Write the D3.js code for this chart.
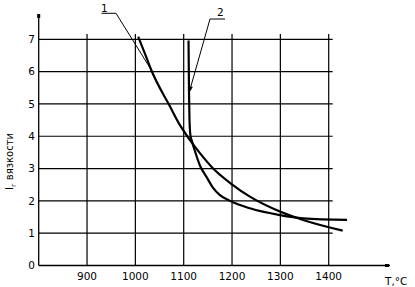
<!DOCTYPE html>
<html>
<head>
<meta charset="utf-8">
<script src="https://cdn.jsdelivr.net/npm/d3@7"></script>
<style>
  body { margin: 0; background: #fff; }
  text { font-family: "DejaVu Sans", sans-serif; fill: #000; }
</style>
</head>
<body>
<svg id="chart"></svg>
<script>
// Вязкость от температуры, кривые 1 и 2

const xTicks = [900, 1000, 1100, 1200, 1300, 1400];
const yTicks = [0, 1, 2, 3, 4, 5, 6, 7];

// кривая 1: [T, I]
const curve1 = [
    [1006, 7.08], [1023, 6.43], [1032, 6.08], [1072, 4.91], [1092, 4.35],
    [1113, 3.88], [1134, 3.47], [1161, 3.0], [1199, 2.52], [1237, 2.13],
    [1299, 1.67], [1347, 1.41], [1429, 1.08]
];

// кривая 2
const curve2 = [
    [1110, 6.96], [1111, 5.34], [1112, 4.5], [1114, 4.01], [1117, 3.85],
    [1123, 3.55], [1134, 3.08], [1148, 2.72], [1160, 2.42], [1175, 2.18],
    [1196, 2.0], [1237, 1.77], [1299, 1.56], [1347, 1.46], [1438, 1.41]
];

const curveLabels = ["1", "2"];
const labelTargets = [[1031, 6.1], [1111, 5.34]];

function createChart() {
    const width = 415, height = 287;
    const svg = d3.select("#chart")
        .attr("width", width)
        .attr("height", height);

    const x = d3.scaleLinear().domain([800, 1400]).range([38.7, 328.7]);
    const y = d3.scaleLinear().domain([0, 7]).range([265.5, 39.3]);

    // сетка
    const grid = svg.append("g").attr("stroke", "#000").attr("stroke-width", 1.2);
    grid.selectAll("line.v")
        .data(xTicks)
        .join("line")
        .attr("class", "v")
        .attr("x1", d => x(d)).attr("x2", d => x(d))
        .attr("y1", 34).attr("y2", y(0));
    grid.selectAll("line.h")
        .data(yTicks.filter(d => d > 0))
        .join("line")
        .attr("class", "h")
        .attr("x1", x(800)).attr("x2", 332.7)
        .attr("y1", d => y(d)).attr("y2", d => y(d));

    // оси
    svg.append("line")
        .attr("x1", x(800)).attr("x2", x(800))
        .attr("y1", 14).attr("y2", y(0))
        .attr("stroke", "#000").attr("stroke-width", 1.3);
    svg.append("line")
        .attr("x1", x(800)).attr("x2", 390)
        .attr("y1", y(0)).attr("y2", y(0))
        .attr("stroke", "#000").attr("stroke-width", 1.3);
    svg.append("rect").attr("x", x(800) - 1.5).attr("y", 14).attr("width", 3).attr("height", 4).attr("fill", "#000");
    svg.append("rect").attr("x", 385).attr("y", y(0) - 1.5).attr("width", 4).attr("height", 3).attr("fill", "#000");

    svg.append("g")
        .selectAll("text")
        .data(yTicks)
        .join("text")
        .attr("x", 35)
        .attr("y", d => y(d) + 3.8)
        .attr("text-anchor", "end")
        .style("font-size", "10.5px")
        .text(d => d);

    svg.append("g")
        .selectAll("text")
        .data(xTicks)
        .join("text")
        .attr("x", d => x(d))
        .attr("y", 279.5)
        .attr("text-anchor", "middle")
        .style("font-size", "10.5px")
        .text(d => d);

    svg.append("text")
        .attr("x", 385)
        .attr("y", 285)
        .style("font-size", "10.5px")
        .text("T,°C");

    const yLabel = svg.append("text")
        .attr("transform", "translate(13,190) rotate(-90)")
        .style("font-size", "10px");
    yLabel.append("tspan").text("I");
    yLabel.append("tspan").attr("dy", 3).style("font-size", "7px").text("г");
    yLabel.append("tspan").attr("dy", -3).text("  вязкости");

    // кривые
    const line = d3.line()
        .x(d => x(d[0]))
        .y(d => y(d[1]))
        .curve(d3.curveMonotoneX);

    svg.selectAll("path.curve")
        .data([curve1, curve2])
        .join("path")
        .attr("class", "curve")
        .attr("fill", "none")
        .attr("stroke", "#000")
        .attr("stroke-width", 2.2)
        .attr("stroke-linejoin", "round")
        .attr("d", line);

    // выноски
    const elbows = [[[101.5, 13.3], [116, 13.3]], [[225, 19], [210, 19]]];
    const textPos = [[101, 11.5], [217, 15.5]];
    const leaders = svg.append("g").attr("fill", "none").attr("stroke", "#000").attr("stroke-width", 1);
    labelTargets.forEach((t, i) => {
        const end = [x(t[0]), y(t[1])];
        leaders.append("polyline")
            .attr("points", [...elbows[i], end].map(p => p.join(",")).join(" "));
        svg.append("text")
            .attr("x", textPos[i][0])
            .attr("y", textPos[i][1])
            .style("font-size", "10.5px")
            .text(curveLabels[i]);
    });

    // стрелка у выноски 2
    const p0 = elbows[1][1], p1 = [x(labelTargets[1][0]), y(labelTargets[1][1])];
    const ang = Math.atan2(p1[1] - p0[1], p1[0] - p0[0]);
    const a1 = ang + Math.PI - 0.3, a2 = ang + Math.PI + 0.3;
    svg.append("path")
        .attr("d", `M${p1[0]},${p1[1]}L${p1[0] + 7 * Math.cos(a1)},${p1[1] + 7 * Math.sin(a1)}L${p1[0] + 7 * Math.cos(a2)},${p1[1] + 7 * Math.sin(a2)}Z`)
        .attr("fill", "#000");

    return svg.node();
}

createChart();
</script>
</body>
</html>
